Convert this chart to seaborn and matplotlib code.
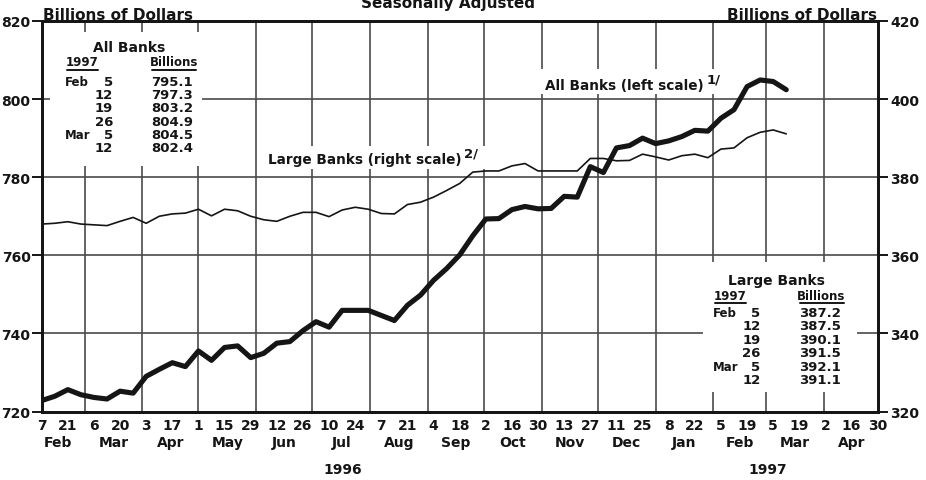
"""
Bank credit chart: All Banks (left scale) vs Large Banks (right scale), weekly, seasonally adjusted
"""
import matplotlib
matplotlib.use('Agg')
import matplotlib.pyplot as plt
from matplotlib.patches import Rectangle
from matplotlib.lines import Line2D
import pandas as pd
import seaborn as sns

# ----------------------------------------------------------------------------
# Data (weekly, Wednesdays, billions of dollars)
# ----------------------------------------------------------------------------
first_week = '1996-02-07'

all_banks = [722.8, 723.9, 725.6, 724.3, 723.6, 723.2, 725.2, 724.7, 729.0, 730.8,
             732.5, 731.5, 735.5, 733.1, 736.4, 736.8, 733.8, 734.9, 737.5, 737.9,
             740.7, 743.0, 741.6, 745.9, 745.9, 745.9, 744.6, 743.3, 747.2, 749.8,
             753.6, 756.6, 760.1, 765.0, 769.3, 769.4, 771.7, 772.5, 771.9, 772.0,
             775.1, 774.9, 782.7, 781.2, 787.5, 788.1, 790.0, 788.6, 789.3, 790.4,
             792.0, 791.8, 795.1, 797.3, 803.2, 804.9, 804.5, 802.4]

large_banks = [368.0, 368.2, 368.6, 368.0, 367.8, 367.6, 368.7, 369.7, 368.2, 370.0,
               370.6, 370.8, 371.8, 370.1, 371.8, 371.4, 370.0, 369.1, 368.7, 370.0,
               371.0, 371.0, 369.9, 371.6, 372.3, 371.8, 370.7, 370.6, 373.0, 373.6,
               374.9, 376.6, 378.4, 381.3, 381.6, 381.6, 382.9, 383.5, 381.6, 381.6,
               381.6, 381.6, 384.8, 384.8, 384.2, 384.3, 385.9, 385.2, 384.4, 385.5,
               385.9, 385.0, 387.2, 387.5, 390.1, 391.5, 392.1, 391.1]

table_months = ['Feb', '', '', '', 'Mar', '']
table_days = ['5', '12', '19', '26', '5', '12']

left_ticks = [720, 740, 760, 780, 800, 820]
right_ticks = [320, 340, 360, 380, 400, 420]
month_names = ['Feb', 'Mar', 'Apr', 'May', 'Jun', 'Jul', 'Aug', 'Sep', 'Oct',
               'Nov', 'Dec', 'Jan', 'Feb', 'Mar', 'Apr']

x_start = pd.Timestamp('1996-02-07')
x_end = pd.Timestamp('1997-04-30')
weeks = pd.date_range(first_week, periods=len(all_banks), freq='7D')

# ----------------------------------------------------------------------------
# Style
# ----------------------------------------------------------------------------
sns.set_style('white')
plt.rcParams['font.family'] = ['DejaVu Sans']
plt.rcParams['font.weight'] = 'bold'

INK = '#151515'
GRID = '#4a4a4a'
W, H = 926, 481


def fx(x):
    return x / W


def fy(y):
    return 1 - y / H


fig = plt.figure(figsize=(W / 100, H / 100), dpi=100)
fig.patch.set_facecolor('white')
ax = fig.add_axes([fx(41.7), fy(412.5), (877.7 - 41.7) / W, (412.5 - 22) / H])
ax.set_axisbelow(True)

# thick line: all banks
sns.lineplot(x=weeks, y=all_banks, ax=ax, color=INK, linewidth=3.7, zorder=3)
ax.set_xlim(x_start, x_end)
ax.set_ylim(720, 820)

# thin line: large banks on right scale
ax2 = ax.twinx()
sns.lineplot(x=weeks, y=large_banks, ax=ax2, color=INK, linewidth=1.2)
ax2.set_ylim(320, 420)

# grid: horizontal at y ticks, vertical at month starts
ax.set_yticks(left_ticks)
ax.yaxis.grid(True, color=GRID, linewidth=1.2)
for m in pd.date_range('1996-03-01', '1997-04-01', freq='MS'):
    ax.axvline(m, color=GRID, linewidth=1.2, zorder=0.6)

# white panels under the tables and labels
for x0, y0, x1, y1 in [(50, 33, 202, 167), (265, 147, 485, 170),
                       (540, 70, 722, 95), (703, 263, 857, 393)]:
    ax.add_patch(Rectangle((fx(x0), fy(y1)), fx(x1 - x0), (y1 - y0) / H,
                           transform=fig.transFigure, facecolor='white',
                           edgecolor='none', zorder=1))

# x ticks: every week, labels every other week
major = pd.date_range(x_start, x_end, freq='14D')
minor = pd.date_range(x_start, x_end, freq='7D')
ax.set_xticks(major)
ax.set_xticklabels([str(d.day) for d in major])
ax.set_xticks(minor, minor=True)
ax.tick_params(axis='x', which='major', direction='in', length=6, width=1.4,
               pad=5, labelsize=10, colors=INK)
ax.tick_params(axis='x', which='minor', direction='in', length=3, width=1.2)
ax.tick_params(axis='y', direction='out', length=7, width=1.4, pad=1,
               labelsize=10, colors=INK)
ax2.set_yticks(right_ticks)
ax2.tick_params(axis='y', direction='out', length=7, width=1.4, pad=2,
                labelsize=10, colors=INK)
ax.set_xlabel('')
ax.set_ylabel('')
ax2.set_ylabel('')

for a in (ax, ax2):
    for s in a.spines.values():
        s.set_linewidth(2)
        s.set_color(INK)

# month and year labels under the axis
xt = ax.get_xaxis_transform()
month_starts = pd.date_range('1996-02-01', '1997-05-01', freq='MS')
for name, a, b in zip(month_names, month_starts[:-1], month_starts[1:]):
    ax.text(a + (b - a) / 2, -(443 - 412.5) / 390.5, name, transform=xt,
            ha='center', va='center', fontsize=10, color=INK, clip_on=False)
for year, a, b in [('1996', '1996-02-01', '1997-01-01'),
                   ('1997', '1997-01-01', '1997-05-01')]:
    a, b = pd.Timestamp(a), pd.Timestamp(b)
    ax.text(a + (b - a) / 2, -(470 - 412.5) / 390.5, year, transform=xt,
            ha='center', va='center', fontsize=10, color=INK, clip_on=False)

# titles (the subtitle is cut by the top edge, as in the source scan)
fig.text(fx(448), fy(8), 'Seasonally Adjusted', ha='center', va='baseline',
         fontsize=11, color=INK)
fig.text(fx(43), fy(20), 'Billions of Dollars', ha='left', va='baseline',
         fontsize=11, color=INK)
fig.text(fx(877), fy(20), 'Billions of Dollars', ha='right', va='baseline',
         fontsize=11, color=INK)

# line labels with footnote marks right after the text
for label, note, x, y in [('All Banks (left scale)', '1/', 545, 86),
                          ('Large Banks (right scale)', '2/', 268, 160)]:
    t = fig.text(fx(x), fy(y), label, ha='left', va='center',
                 fontsize=9.8, color=INK)
    ax.annotate(note, xy=(1, 1), xycoords=t, xytext=(2, -1),
                textcoords='offset points', ha='left', va='center',
                fontsize=9.5, color=INK, annotation_clip=False)


def draw_table(title, values, left, title_y, head_y, row0):
    # left: x of month column, everything else is offset from it
    fig.text(fx(left + 64), fy(title_y), title, ha='center', va='center',
             fontsize=10, color=INK)
    for txt, x0, x1 in [('1997', left + 2, left + 33),
                        ('Billions', left + 87, left + 131)]:
        fig.text(fx((x0 + x1) / 2), fy(head_y), txt, ha='center', va='center',
                 fontsize=8.5, color=INK)
        fig.add_artist(Line2D([fx(x0), fx(x1)], [fy(head_y + 8)] * 2,
                              color=INK, linewidth=1.4))
    for i, (mo, day, val) in enumerate(zip(table_months, table_days, values)):
        y = fy(row0 + i * 13.4)
        fig.text(fx(left), y, mo, ha='left', va='center', fontsize=8.5, color=INK)
        fig.text(fx(left + 48), y, day, ha='right', va='center', fontsize=9.5,
                 color=INK)
        fig.text(fx(left + 128), y, f'{val:.1f}', ha='right', va='center',
                 fontsize=9.5, color=INK)


draw_table('All Banks', all_banks[-6:], 65, 48, 63, 82)
draw_table('Large Banks', large_banks[-6:], 712.5, 281, 296, 313.5)

fig.savefig('out.png', dpi=100)
plt.close(fig)
